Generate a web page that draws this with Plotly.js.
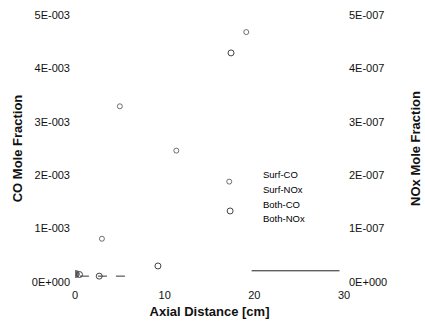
<!DOCTYPE html>
<html>
<head>
<meta charset="utf-8">
<script src="https://cdn.plot.ly/plotly-3.0.1.min.js"></script>
<style>html,body{margin:0;padding:0;background:#fff;}#chart{width:425px;height:322px;}</style>
</head>
<body>
<div id="chart"></div>
<script>
// Data
var seriesNames = ["Surf-CO", "Surf-NOx", "Both-CO", "Both-NOx"];

var surfCO_x = [0.1, 3.0, 5.0, 11.3, 17.2, 19.1];
var surfCO_y = [0.00015, 0.00081, 0.00329, 0.00246, 0.00188, 0.00468];

var bothCO_x = [0.5, 2.7, 9.25, 17.3, 17.4];
var bothCO_y = [0.00014, 0.00011, 0.00030, 0.00133, 0.00429];

var surfNOx_x = [19.7, 22, 24, 26, 28, 29.5];
var surfNOx_y = [2.1e-8, 2.1e-8, 2.1e-8, 2.1e-8, 2.1e-8, 2.1e-8];

var bothNOx_x = [0.55, 2, 4, 6.3];
var bothNOx_y = [1.1e-8, 1.1e-8, 1.1e-8, 1.1e-8];

var xTickVals = [0, 10, 20, 30];
var xTickText = ["0", "10", "20", "30"];
var yTickVals = [0, 0.001, 0.002, 0.003, 0.004, 0.005];
var yTickText = ["0E+000", "1E-003", "2E-003", "3E-003", "4E-003", "5E-003"];
var y2TickVals = [0, 1e-7, 2e-7, 3e-7, 4e-7, 5e-7];
var y2TickText = ["0E+000", "1E-007", "2E-007", "3E-007", "4E-007", "5E-007"];

var FONT = "Liberation Sans, Arial, sans-serif";

var traces = [
  {x: surfCO_x, y: surfCO_y, name: seriesNames[0], mode: "markers", yaxis: "y",
   marker: {symbol: surfCO_x.map(function(v, i){ return i === 0 ? "circle" : "circle-open"; }),
            size: surfCO_x.map(function(v, i){ return i === 0 ? 7 : 5; }),
            color: "#333", line: {width: 1, color: "#333"}}},
  {x: surfNOx_x, y: surfNOx_y, name: seriesNames[1], mode: "lines", yaxis: "y2",
   line: {color: "#222", width: 1}},
  {x: bothCO_x, y: bothCO_y, name: seriesNames[2], mode: "markers", yaxis: "y",
   marker: {symbol: "circle", size: 6, color: "rgba(255,255,255,0)", line: {width: 1, color: "#444"}}},
  {x: bothNOx_x, y: bothNOx_y, name: seriesNames[3], mode: "lines", yaxis: "y2",
   line: {color: "#333", width: 1, dash: "dash"}}
];

var annotations = seriesNames.map(function(n, i){
  return {text: n, xref: "paper", yref: "paper", x: 0.69, y: 0.404 - i*0.056,
          xanchor: "left", yanchor: "middle", showarrow: false,
          font: {family: FONT, size: 9.5, color: "#000"}};
});

var layout = {
  width: 425, height: 322,
  margin: {l: 75, r: 81, t: 15, b: 40},
  paper_bgcolor: "#fff", plot_bgcolor: "#fff",
  showlegend: false,
  font: {family: FONT, size: 11, color: "#111"},
  xaxis: {range: [0, 30], tickvals: xTickVals, ticktext: xTickText,
          showgrid: false, zeroline: false, showline: false, ticks: "",
          ticklabelstandoff: 5,
          tickfont: {family: FONT, size: 11, color: "#111"},
          title: {text: "Axial Distance [cm]", standoff: 6,
                  font: {family: FONT, size: 13, color: "#111", weight: "bold"}}},
  yaxis: {range: [0, 0.005], tickvals: yTickVals, ticktext: yTickText,
          showgrid: false, zeroline: false, showline: false, ticks: "",
          ticklabelstandoff: 4,
          tickfont: {family: FONT, size: 11, color: "#111"},
          title: {text: "CO Mole Fraction", standoff: 6,
                  font: {family: FONT, size: 13, color: "#111", weight: "bold"}}},
  yaxis2: {range: [0, 5e-7], tickvals: y2TickVals, ticktext: y2TickText,
           overlaying: "y", side: "right",
           showgrid: false, zeroline: false, showline: false, ticks: "",
           ticklabelstandoff: 4,
           tickfont: {family: FONT, size: 11, color: "#111"},
           title: {text: "NOx Mole Fraction", standoff: 24,
                   font: {family: FONT, size: 13, color: "#111", weight: "bold"}}},
  annotations: annotations
};

Plotly.newPlot("chart", traces, layout, {displayModeBar: false, staticPlot: true});
</script>
</body>
</html>
